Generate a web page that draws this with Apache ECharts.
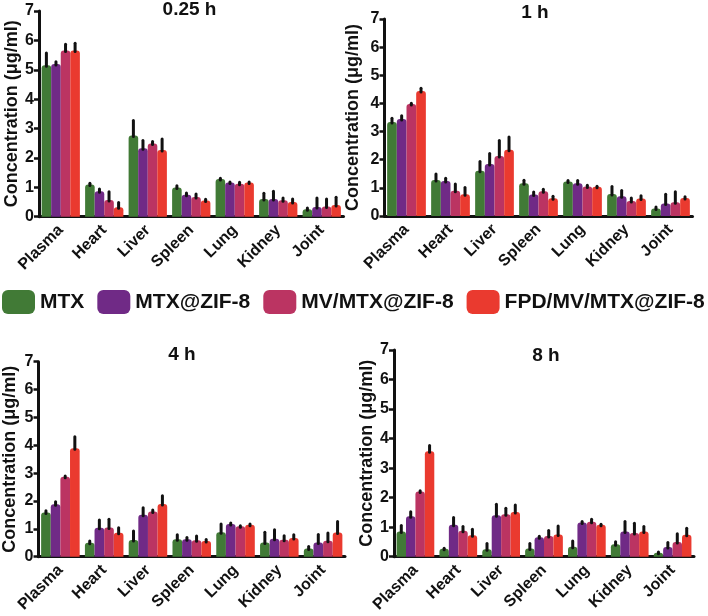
<!DOCTYPE html>
<html>
<head>
<meta charset="utf-8">
<script src="https://cdn.jsdelivr.net/npm/echarts@6/dist/echarts.min.js"></script>
<style>
  html, body { margin: 0; padding: 0; background: #fff; }
  #chart { width: 708px; height: 616px; }
</style>
</head>
<body>
<div id="chart"></div>
<script>
// ---- data ----
const categories = ['Plasma', 'Heart', 'Liver', 'Spleen', 'Lung', 'Kidney', 'Joint'];
const seriesNames = ['MTX', 'MTX@ZIF-8', 'MV/MTX@ZIF-8', 'FPD/MV/MTX@ZIF-8'];
const panelTitles = ['0.25 h', '1 h', '4 h', '8 h'];
const yAxisName = 'Concentration (μg/ml)';

// 0.25 h
const p1_MTX      = [5.15, 1.10, 2.76, 0.99, 1.28, 0.60, 0.25];
const p1_MTX_sd   = [0.42, 0.04, 0.51, 0.06, 0.03, 0.20, 0.05];
const p1_ZIF      = [5.20, 0.87, 2.33, 0.75, 1.16, 0.60, 0.33];
const p1_ZIF_sd   = [0.07, 0.07, 0.26, 0.06, 0.02, 0.27, 0.31];
const p1_MV       = [5.66, 0.57, 2.49, 0.67, 1.12, 0.56, 0.35];
const p1_MV_sd    = [0.21, 0.28, 0.07, 0.10, 0.05, 0.08, 0.25];
const p1_FPD      = [5.66, 0.32, 2.27, 0.55, 1.16, 0.50, 0.40];
const p1_FPD_sd   = [0.24, 0.16, 0.37, 0.04, 0.02, 0.10, 0.26];
// 1 h
const p2_MTX      = [3.34, 1.28, 1.61, 1.16, 1.23, 0.78, 0.27];
const p2_MTX_sd   = [0.13, 0.21, 0.33, 0.11, 0.03, 0.27, 0.05];
const p2_ZIF      = [3.45, 1.24, 1.85, 0.76, 1.16, 0.70, 0.44];
const p2_ZIF_sd   = [0.11, 0.10, 0.37, 0.09, 0.10, 0.21, 0.33];
const p2_MV       = [3.98, 0.90, 2.13, 0.88, 1.05, 0.53, 0.49];
const p2_MV_sd    = [0.03, 0.24, 0.55, 0.07, 0.04, 0.11, 0.37];
const p2_FPD      = [4.44, 0.77, 2.35, 0.63, 1.04, 0.62, 0.64];
const p2_FPD_sd   = [0.10, 0.24, 0.46, 0.07, 0.02, 0.10, 0.04];
// 4 h
const p3_MTX      = [1.59, 0.50, 0.60, 0.63, 0.88, 0.51, 0.29];
const p3_MTX_sd   = [0.06, 0.06, 0.32, 0.16, 0.29, 0.37, 0.08];
const p3_ZIF      = [1.88, 1.04, 1.51, 0.63, 1.17, 0.64, 0.51];
const p3_ZIF_sd   = [0.09, 0.28, 0.25, 0.06, 0.04, 0.33, 0.29];
const p3_MV       = [2.87, 1.05, 1.62, 0.59, 1.09, 0.61, 0.57];
const p3_MV_sd    = [0.03, 0.29, 0.06, 0.15, 0.02, 0.14, 0.28];
const p3_FPD      = [3.89, 0.86, 1.89, 0.56, 1.15, 0.67, 0.87];
const p3_FPD_sd   = [0.42, 0.18, 0.30, 0.06, 0.02, 0.12, 0.39];
// 8 h
const p4_MTX      = [0.85, 0.27, 0.25, 0.28, 0.34, 0.42, 0.13];
const p4_MTX_sd   = [0.21, 0.02, 0.20, 0.17, 0.19, 0.09, 0.03];
const p4_ZIF      = [1.37, 1.08, 1.40, 0.66, 1.16, 0.85, 0.33];
const p4_ZIF_sd   = [0.15, 0.25, 0.38, 0.03, 0.03, 0.34, 0.15];
const p4_MV       = [2.21, 0.88, 1.44, 0.70, 1.18, 0.80, 0.50];
const p4_MV_sd    = [0.02, 0.14, 0.20, 0.19, 0.09, 0.33, 0.28];
const p4_FPD      = [3.57, 0.73, 1.51, 0.75, 1.08, 0.85, 0.74];
const p4_FPD_sd   = [0.20, 0.20, 0.24, 0.29, 0.02, 0.17, 0.22];

const yMin = 0, yMax = 7, yInterval = 1;

// ---- assembly ----
const panels = [
  { title: panelTitles[0], means: [p1_MTX, p1_ZIF, p1_MV, p1_FPD], sds: [p1_MTX_sd, p1_ZIF_sd, p1_MV_sd, p1_FPD_sd] },
  { title: panelTitles[1], means: [p2_MTX, p2_ZIF, p2_MV, p2_FPD], sds: [p2_MTX_sd, p2_ZIF_sd, p2_MV_sd, p2_FPD_sd] },
  { title: panelTitles[2], means: [p3_MTX, p3_ZIF, p3_MV, p3_FPD], sds: [p3_MTX_sd, p3_ZIF_sd, p3_MV_sd, p3_FPD_sd] },
  { title: panelTitles[3], means: [p4_MTX, p4_ZIF, p4_MV, p4_FPD], sds: [p4_MTX_sd, p4_ZIF_sd, p4_MV_sd, p4_FPD_sd] }
];

const layout = [
  { grid: { left: 39, top: 11, width: 304.5, height: 205.7 }, nameGap: 17, title: [189.5, 9.5] },
  { grid: { left: 384.5, top: 19, width: 308, height: 197 }, nameGap: 22, title: [535, 12.5] },
  { grid: { left: 38.5, top: 361.7, width: 306.5, height: 195 }, nameGap: 19, title: [182, 355] },
  { grid: { left: 394, top: 350, width: 300, height: 206.7 }, nameGap: 18, title: [546, 356] }
];

const colors = ['#417a36', '#702a86', '#bb3462', '#ea3a2f'];
const FONT = "'Liberation Sans', Arial, sans-serif";
const BAR_FRAC = 0.22;

const grid = [], xAxis = [], yAxis = [], series = [], title = [];

panels.forEach((p, pi) => {
  const L = layout[pi];
  grid.push(Object.assign({ containLabel: false }, L.grid));
  title.push({
    text: p.title, left: L.title[0], top: L.title[1], textAlign: 'center', textVerticalAlign: 'middle', padding: 0,
    textStyle: { fontFamily: FONT, fontWeight: 'bold', fontSize: 19, color: '#111' }
  });
  xAxis.push({
    type: 'category', gridIndex: pi, data: categories,
    axisLine: { lineStyle: { color: '#111', width: 3 } },
    axisTick: { alignWithLabel: true, length: 5, lineStyle: { color: '#111', width: 2.5 } },
    axisLabel: { rotate: 45, margin: 11, interval: 0, fontFamily: FONT, fontWeight: 'bold', fontSize: 16, color: '#111' },
    splitLine: { show: false }
  });
  yAxis.push({
    type: 'value', gridIndex: pi, min: yMin, max: yMax, interval: yInterval,
    name: yAxisName, nameLocation: 'middle', nameRotate: 90, nameGap: L.nameGap,
    nameTextStyle: { fontFamily: FONT, fontWeight: 'bold', fontSize: 18, color: '#111' },
    axisLine: { show: true, lineStyle: { color: '#111', width: 3 } },
    axisTick: { show: true, length: 5, lineStyle: { color: '#111', width: 2.5 } },
    axisLabel: { margin: 5, fontFamily: FONT, fontWeight: 'bold', fontSize: 16, color: '#111' },
    splitLine: { show: false }
  });
  p.means.forEach((vals, si) => {
    series.push({
      name: seriesNames[si], type: 'bar', xAxisIndex: pi, yAxisIndex: pi,
      data: vals, barWidth: (BAR_FRAC * 100) + '%', barGap: '0%',
      itemStyle: { color: colors[si], borderRadius: [3, 3, 0, 0] },
      z: 2, animation: false
    });
  });
  const errData = [];
  p.means.forEach((vals, si) => {
    vals.forEach((v, ci) => errData.push([ci, v, p.sds[si][ci], si]));
  });
  series.push({
    type: 'custom', xAxisIndex: pi, yAxisIndex: pi, z: 5, animation: false, silent: true,
    data: errData,
    renderItem: function (params, api) {
      const ci = api.value(0), mean = api.value(1), sd = api.value(2), si = api.value(3);
      const band = api.size([1, 0])[0];
      const bw = band * BAR_FRAC;
      const c = api.coord([ci, mean]);
      const t = api.coord([ci, mean + sd]);
      const x = c[0] + (si - 1.5) * bw;
      return {
        type: 'line',
        shape: { x1: x, y1: c[1] + 1, x2: x, y2: t[1] },
        style: { stroke: '#111', lineWidth: 3, lineCap: 'round' }
      };
    }
  });
});

const chart = echarts.init(document.getElementById('chart'), null, { renderer: 'canvas' });
chart.setOption({
  backgroundColor: '#fff',
  animation: false,
  title: title,
  legend: {
    data: seriesNames, top: 290, left: 2, width: 706, padding: 0, itemWidth: 33, itemHeight: 24, itemGap: 13,
    icon: 'roundRect',
    textStyle: { fontFamily: FONT, fontWeight: 'bold', fontSize: 21, color: '#111' },
    selectedMode: false
  },
  grid: grid, xAxis: xAxis, yAxis: yAxis, series: series
});
</script>
</body>
</html>
